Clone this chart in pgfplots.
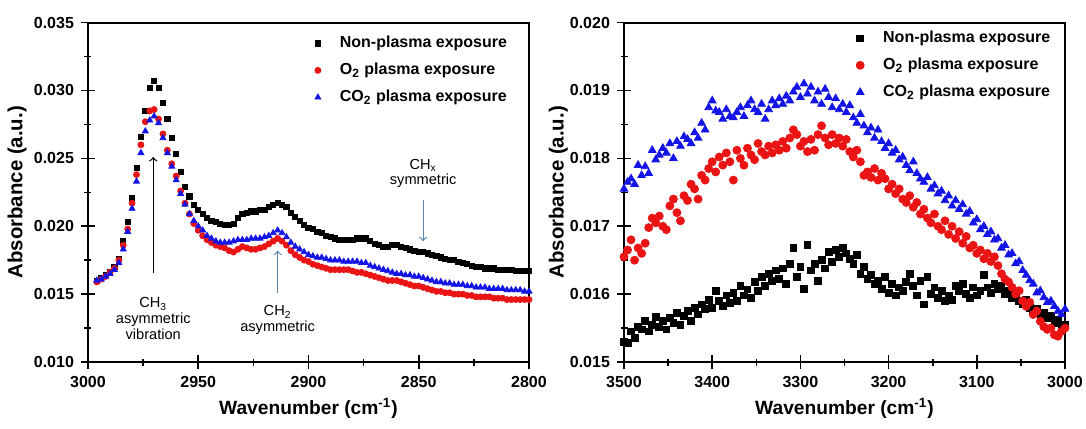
\documentclass[border=0pt]{standalone}
\usepackage{pgfplots}
\pgfplotsset{compat=1.18}
\usepackage{pgfplotstable}
\usepackage{fontspec}
\setmainfont{Liberation Sans}

\definecolor{ptred}{RGB}{235,20,20}
\definecolor{ptblue}{RGB}{20,20,230}
\definecolor{arrowblue}{RGB}{95,135,170}

% C-H stretch region (left panel)
\pgfplotstableread{
wn   nonp   otwo   cotwo
2996 0.0160 0.0159 0.0160
2994 0.0162 0.0161 0.0161
2992 0.0164 0.0163 0.0163
2990 0.0166 0.0166 0.0165
2988 0.0170 0.0169 0.0168
2986 0.0176 0.0175 0.0173
2984 0.0189 0.0186 0.0183
2982 0.0203 0.0198 0.0196
2980 0.0221 0.0217 0.0213
2978 0.0243 0.0238 0.0233
2976 0.0266 0.0260 0.0254
2974 0.0285 0.0277 0.0270
2972 0.0302 0.0285 0.0278
2970 0.0307 0.0286 0.0281
2968 0.0302 0.0279 0.0276
2966 0.0291 0.0268 0.0265
2964 0.0279 0.0256 0.0254
2962 0.0265 0.0246 0.0244
2960 0.0253 0.0237 0.0234
2958 0.0240 0.0226 0.0224
2956 0.0229 0.0217 0.0216
2954 0.0222 0.0209 0.0209
2952 0.0216 0.0202 0.0204
2950 0.0212 0.0197 0.0200
2948 0.0209 0.0193 0.0197
2946 0.0206 0.0190 0.0193
2944 0.0204 0.0188 0.0191
2942 0.0203 0.0186 0.0189
2940 0.0202 0.0185 0.0188
2938 0.0201 0.0184 0.0188
2936 0.0201 0.0182 0.0188
2934 0.0202 0.0181 0.0189
2932 0.0206 0.0183 0.0190
2930 0.0209 0.0185 0.0190
2928 0.0210 0.0184 0.0190
2926 0.0211 0.0183 0.0191
2924 0.0211 0.0183 0.0191
2922 0.0212 0.0184 0.0191
2920 0.0212 0.0185 0.0192
2918 0.0214 0.0187 0.0193
2916 0.0216 0.0189 0.0195
2914 0.0217 0.0191 0.0197
2912 0.0216 0.0189 0.0195
2910 0.0214 0.0186 0.0192
2908 0.0210 0.0182 0.0188
2906 0.0207 0.0179 0.0185
2904 0.0204 0.0177 0.0183
2902 0.0201 0.0175 0.0181
2900 0.0199 0.0174 0.0179
2898 0.0198 0.0172 0.0178
2896 0.0196 0.0171 0.0177
2894 0.0195 0.0170 0.0177
2892 0.0193 0.0169 0.0176
2890 0.0192 0.0168 0.0175
2888 0.0191 0.0168 0.0175
2886 0.0190 0.0168 0.0175
2884 0.0190 0.0168 0.0174
2882 0.0190 0.0168 0.0174
2880 0.0190 0.0167 0.0174
2878 0.0191 0.0166 0.0174
2876 0.0191 0.0166 0.0173
2874 0.0191 0.0165 0.0173
2872 0.0189 0.0164 0.0171
2870 0.0187 0.0163 0.0170
2868 0.0186 0.0162 0.0169
2866 0.0185 0.0161 0.0168
2864 0.0185 0.0160 0.0167
2862 0.0186 0.0160 0.0166
2860 0.0186 0.0160 0.0165
2858 0.0185 0.0159 0.0165
2856 0.0184 0.0158 0.0164
2854 0.0183 0.0157 0.0164
2852 0.0182 0.0156 0.0163
2850 0.0181 0.0156 0.0163
2848 0.0181 0.0155 0.0162
2846 0.0180 0.0154 0.0161
2844 0.0179 0.0153 0.0160
2842 0.0178 0.0152 0.0159
2840 0.0177 0.0152 0.0159
2838 0.0176 0.0151 0.0158
2836 0.0175 0.0151 0.0158
2834 0.0175 0.0150 0.0157
2832 0.0174 0.0150 0.0157
2830 0.0173 0.0150 0.0157
2828 0.0172 0.0149 0.0156
2826 0.0171 0.0149 0.0156
2824 0.0170 0.0148 0.0155
2822 0.0170 0.0148 0.0155
2820 0.0169 0.0148 0.0155
2818 0.0169 0.0148 0.0154
2816 0.0169 0.0147 0.0154
2814 0.0168 0.0147 0.0154
2812 0.0168 0.0147 0.0154
2810 0.0168 0.0146 0.0153
2808 0.0168 0.0146 0.0153
2806 0.0167 0.0146 0.0153
2804 0.0167 0.0146 0.0153
2802 0.0167 0.0146 0.0152
2800 0.0167 0.0146 0.0152
}\chdata

% O-H region (right panel)
\pgfplotstableread{
wn   nonp    otwo    cotwo
3500 0.01530 0.01655 0.01755
3496 0.01528 0.01665 0.01765
3492 0.01545 0.01680 0.01770
3488 0.01535 0.01650 0.01762
3484 0.01552 0.01668 0.01790
3480 0.01548 0.01660 0.01775
3476 0.01560 0.01675 0.01788
3472 0.01545 0.01698 0.01778
3468 0.01555 0.01712 0.01812
3464 0.01566 0.01705 0.01798
3460 0.01552 0.01715 0.01805
3456 0.01560 0.01700 0.01815
3452 0.01548 0.01695 0.01808
3448 0.01565 0.01730 0.01822
3444 0.01558 0.01740 0.01800
3440 0.01572 0.01720 0.01825
3436 0.01555 0.01708 0.01818
3432 0.01568 0.01745 0.01832
3428 0.01575 0.01738 0.01828
3424 0.01560 0.01762 0.01822
3420 0.01580 0.01755 0.01838
3416 0.01570 0.01740 0.01830
3412 0.01585 0.01775 0.01852
3408 0.01578 0.01768 0.01842
3404 0.01592 0.01785 0.01875
3400 0.01580 0.01795 0.01885
3396 0.01605 0.01780 0.01870
3392 0.01590 0.01802 0.01868
3388 0.01583 0.01790 0.01858
3384 0.01598 0.01808 0.01872
3380 0.01587 0.01795 0.01862
3376 0.01602 0.01768 0.01860
3372 0.01590 0.01812 0.01868
3368 0.01612 0.01800 0.01875
3364 0.01598 0.01790 0.01862
3360 0.01607 0.01815 0.01878
3356 0.01595 0.01805 0.01885
3352 0.01618 0.01798 0.01872
3348 0.01605 0.01822 0.01868
3344 0.01625 0.01810 0.01880
3340 0.01612 0.01805 0.01858
3336 0.01630 0.01818 0.01872
3332 0.01620 0.01808 0.01885
3328 0.01635 0.01820 0.01878
3324 0.01622 0.01812 0.01888
3320 0.01638 0.01825 0.01880
3316 0.01615 0.01815 0.01892
3312 0.01645 0.01830 0.01885
3308 0.01668 0.01842 0.01898
3304 0.01625 0.01835 0.01905
3300 0.01640 0.01818 0.01890
3296 0.01608 0.01825 0.01910
3292 0.01672 0.01810 0.01895
3288 0.01635 0.01828 0.01905
3284 0.01645 0.01812 0.01885
3280 0.01620 0.01835 0.01898
3276 0.01650 0.01848 0.01880
3272 0.01638 0.01830 0.01902
3268 0.01662 0.01820 0.01890
3264 0.01648 0.01835 0.01875
3260 0.01665 0.01822 0.01888
3256 0.01655 0.01830 0.01872
3252 0.01668 0.01818 0.01880
3248 0.01660 0.01828 0.01868
3244 0.01652 0.01810 0.01878
3240 0.01645 0.01802 0.01860
3236 0.01658 0.01812 0.01852
3232 0.01630 0.01795 0.01865
3228 0.01640 0.01775 0.01848
3224 0.01622 0.01780 0.01838
3220 0.01628 0.01772 0.01845
3216 0.01615 0.01785 0.01830
3212 0.01620 0.01768 0.01842
3208 0.01608 0.01778 0.01825
3204 0.01625 0.01770 0.01815
3200 0.01602 0.01755 0.01822
3196 0.01615 0.01762 0.01808
3192 0.01598 0.01748 0.01812
3188 0.01610 0.01755 0.01798
3184 0.01605 0.01740 0.01802
3180 0.01618 0.01735 0.01790
3176 0.01630 0.01745 0.01782
3172 0.01612 0.01728 0.01795
3168 0.01598 0.01735 0.01778
3164 0.01620 0.01718 0.01770
3160 0.01585 0.01725 0.01765
3156 0.01625 0.01712 0.01772
3152 0.01600 0.01705 0.01755
3148 0.01610 0.01718 0.01760
3144 0.01595 0.01700 0.01748
3140 0.01605 0.01695 0.01752
3136 0.01590 0.01708 0.01738
3132 0.01598 0.01688 0.01745
3128 0.01592 0.01700 0.01730
3124 0.01612 0.01682 0.01738
3120 0.01605 0.01692 0.01725
3116 0.01615 0.01675 0.01732
3112 0.01600 0.01685 0.01718
3108 0.01595 0.01668 0.01722
3104 0.01610 0.01672 0.01705
3100 0.01598 0.01660 0.01710
3096 0.01605 0.01665 0.01695
3092 0.01628 0.01652 0.01700
3088 0.01610 0.01660 0.01688
3084 0.01602 0.01648 0.01692
3080 0.01615 0.01655 0.01680
3076 0.01608 0.01642 0.01682
3072 0.01612 0.01630 0.01668
3068 0.01600 0.01622 0.01672
3064 0.01605 0.01618 0.01658
3060 0.01595 0.01610 0.01660
3056 0.01602 0.01600 0.01645
3052 0.01590 0.01605 0.01648
3048 0.01585 0.01590 0.01635
3044 0.01592 0.01582 0.01628
3040 0.01580 0.01588 0.01620
3036 0.01575 0.01570 0.01615
3032 0.01578 0.01575 0.01602
3028 0.01568 0.01560 0.01605
3024 0.01572 0.01552 0.01595
3020 0.01565 0.01548 0.01588
3016 0.01568 0.01550 0.01590
3012 0.01558 0.01540 0.01582
3008 0.01562 0.01538 0.01575
3004 0.01550 0.01545 0.01570
3000 0.01555 0.01550 0.01578
}\ohdata

\pgfplotsset{
  panel/.style={
    scale only axis, width=220.5pt, height=169.7pt,
    x dir=reverse,
    axis line style={line width=1pt},
    tick style={line width=0.8pt, black},
    tick align=center, major tick length=7pt, minor tick length=3.5pt,
    xtick pos=left, ytick pos=left,
    minor x tick num=1, minor y tick num=1,
    scaled ticks=false,
    /pgf/number format/assume math mode=true,
    tick label style={font=\bfseries\fontsize{8}{9.6}\selectfont},
    xticklabel style={/pgf/number format/1000 sep={}},
    yticklabel style={/pgf/number format/.cd, fixed, fixed zerofill, precision=3},
    xlabel={Wavenumber (cm\textsuperscript{-1})},
    ylabel={Absorbance (a.u.)},
    xlabel style={at={(axis description cs:0.5,0)}, anchor=center, yshift=-23pt,
      font=\bfseries\fontsize{9.6}{11}\selectfont},
    ylabel style={anchor=center, font=\bfseries\fontsize{10.2}{12}\selectfont},
    legend cell align=left,
    % gap between the marker and its text
    legend style={draw=none, fill=none, anchor=north west,
      font=\bfseries\fontsize{8}{9.6}\selectfont, row sep=2.2pt,
      /tikz/every odd column/.append style={column sep=7.5pt}},
  },
  npl/.style={only marks, mark=square*, color=black},
  otw/.style={only marks, mark=*, color=ptred},
  cot/.style={only marks, mark=triangle*, color=ptblue},
}

\begin{document}
\begin{tikzpicture}
\begin{axis}[panel, at={(0pt,0pt)}, anchor=south west,
  xmin=2800, xmax=3000, ymin=0.010, ymax=0.035,
  xtick={2800,2850,...,3000},
  ytick={0.010,0.015,0.020,0.025,0.030,0.035},
  ylabel style={at={(axis description cs:-0.161,0.5)}},
  legend style={at={(axis description cs:0.50,0.985)}},
]
\addplot[npl, mark size=1.3pt] table[x=wn, y=nonp] {\chdata};
\addplot[otw, mark size=1.5pt] table[x=wn, y=otwo] {\chdata};
\addplot[cot, mark size=1.7pt] table[x=wn, y=cotwo] {\chdata};
\legend{Non-plasma exposure, O\textsubscript{2} plasma exposure, CO\textsubscript{2} plasma exposure}

\draw[->, line width=0.6pt, black] (axis cs:2970.4,0.01655) -- (axis cs:2970.4,0.0251);
\node[font=\fontsize{7.3}{7.8}\selectfont, align=center] at (axis cs:2970.4,0.0132)
  {CH\textsubscript{3}\\asymmetric\\vibration};
\draw[->, line width=0.6pt, arrowblue] (axis cs:2914,0.0151) -- (axis cs:2914,0.0182);
\node[font=\fontsize{7.3}{7.8}\selectfont, align=center] at (axis cs:2914,0.0131)
  {CH\textsubscript{2}\\asymmetric};
\draw[->, line width=0.6pt, arrowblue] (axis cs:2848,0.0219) -- (axis cs:2848,0.0189);
\node[font=\fontsize{7.3}{7.8}\selectfont, align=center] at (axis cs:2848,0.0239)
  {CH\textsubscript{x}\\symmetric};
\end{axis}

\begin{axis}[panel, at={(268pt,0pt)}, anchor=south west,
  xmin=3000, xmax=3500, ymin=0.015, ymax=0.020,
  xtick={3000,3100,...,3500},
  ytick={0.015,0.016,0.017,0.018,0.019,0.020},
  ylabel style={at={(axis description cs:-0.149,0.5)}},
  legend style={at={(axis description cs:0.512,1.0)}},
]
\addplot[npl, mark size=1.7pt] table[x=wn, y=nonp] {\ohdata};
\addplot[otw, mark size=2pt] table[x=wn, y=otwo] {\ohdata};
\addplot[cot, mark size=2.2pt] table[x=wn, y=cotwo] {\ohdata};
\legend{Non-plasma exposure, O\textsubscript{2} plasma exposure, CO\textsubscript{2} plasma exposure}
\end{axis}

\pgfresetboundingbox
\path[use as bounding box] (-44pt,-33pt) rectangle (499pt,181pt);
\end{tikzpicture}
\end{document}
